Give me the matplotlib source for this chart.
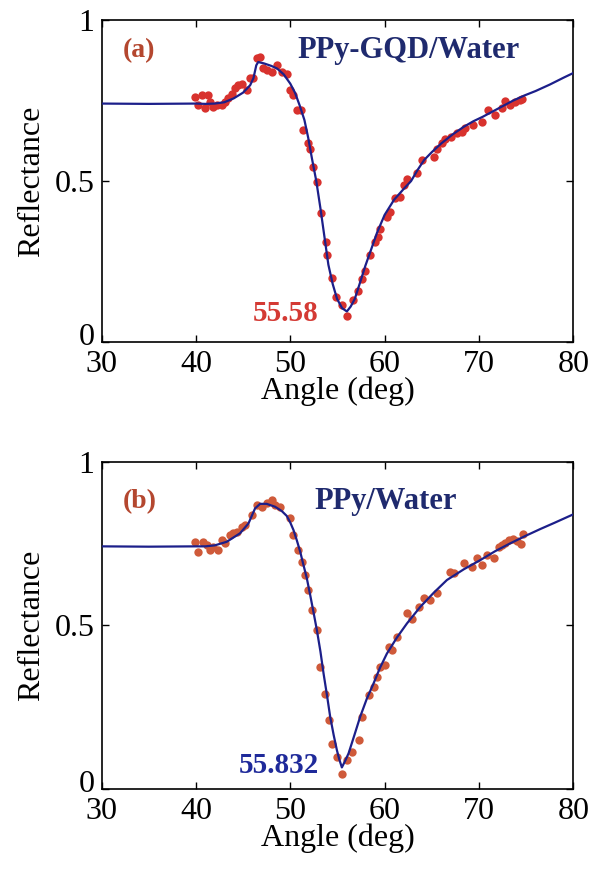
import matplotlib
matplotlib.use("Agg")
import matplotlib.pyplot as plt
import matplotlib.transforms as mtransforms

# panel (a): PPy-GQD/Water
fit_a_x = [30, 35, 40, 41, 42, 43, 44, 45, 45.75, 46.1, 46.4, 46.6, 47.2, 48, 48.6, 49.3,
           50.0, 50.5, 51.0, 51.5, 51.9, 52.3, 52.76, 53.2, 53.56, 54.04, 54.5, 54.96, 55.5,
           56.0, 56.4, 56.84, 57.4, 57.96, 58.6, 59.2, 60.0, 61.0, 62.0, 62.8, 63.5, 64.2,
           65.0, 66.0, 67.2, 68.4, 69.4, 70.4, 72.0, 73.6, 74.8, 76, 77.5, 79, 80]
fit_a_y = [0.741, 0.740, 0.741, 0.740, 0.741, 0.745, 0.757, 0.775, 0.798, 0.82, 0.86, 0.870,
           0.866, 0.858, 0.850, 0.832, 0.803, 0.775, 0.735, 0.69, 0.635, 0.57, 0.50, 0.415,
           0.34, 0.24, 0.18, 0.134, 0.105, 0.095, 0.11, 0.134, 0.185, 0.237, 0.29, 0.34,
           0.395, 0.442, 0.475, 0.50, 0.535, 0.566, 0.59, 0.617, 0.645, 0.669, 0.686, 0.70,
           0.725, 0.75, 0.766, 0.78, 0.80, 0.822, 0.836]
exp_a_x = [39.91, 40.27, 40.62, 40.97, 41.33, 41.5, 41.86, 42.21, 42.74, 43.09, 43.45, 43.8,
           44.15, 44.5, 44.86, 45.4, 45.74, 46.1, 46.45, 46.8, 47.16, 47.51, 48.04, 48.57,
           49.1, 49.63, 49.99, 50.34, 50.69, 51.1, 51.4, 51.93, 52.11, 52.36, 52.82, 53.24,
           53.77, 53.88, 54.41, 54.87, 55.47, 56.0, 56.7, 57.2, 57.6, 57.9, 58.5, 59.0,
           59.25, 59.5, 60.2, 60.6, 61.1, 61.65, 62.1, 62.36, 63.4, 63.95, 65.2, 65.55,
           66.1, 66.4, 67.0, 67.7, 68.2, 68.55, 69.4, 70.3, 71.0, 71.7, 72.4, 72.8, 73.3,
           73.8, 74.3, 74.6]
exp_a_y = [0.762, 0.736, 0.767, 0.726, 0.767, 0.746, 0.731, 0.736, 0.736, 0.746, 0.757, 0.772,
           0.788, 0.798, 0.803, 0.783, 0.819, 0.819, 0.884, 0.886, 0.85, 0.845, 0.84, 0.86,
           0.84, 0.834, 0.783, 0.767, 0.721, 0.72, 0.658, 0.617, 0.60, 0.545, 0.498, 0.40,
           0.31, 0.27, 0.20, 0.14, 0.115, 0.082, 0.13, 0.16, 0.195, 0.22, 0.27, 0.31,
           0.325, 0.35, 0.39, 0.405, 0.446, 0.45, 0.488, 0.508, 0.524, 0.565, 0.576, 0.601,
           0.617, 0.632, 0.638, 0.648, 0.653, 0.664, 0.674, 0.684, 0.72, 0.705, 0.726, 0.75,
           0.738, 0.746, 0.752, 0.756]

# panel (b): PPy/Water
fit_b_x = [30, 35, 40, 41, 42, 43.27, 44.68, 45.57, 46.27, 46.8, 47.5, 48.4, 49.1, 49.63,
           50.0, 50.34, 50.7, 51.05, 51.4, 51.75, 52.1, 52.5, 52.82, 53.2, 53.53, 53.9,
           54.23, 54.6, 54.94, 55.2, 55.47, 55.8, 56.18, 56.8, 57.41, 58.1, 58.83, 59.5,
           60.24, 61.3, 62.36, 63.78, 65.2, 66.6, 68.4, 70.14, 71.7, 73.3, 75, 76.5, 78, 79, 80]
fit_b_y = [0.742, 0.741, 0.742, 0.742, 0.745, 0.756, 0.782, 0.812, 0.858, 0.872, 0.872, 0.863,
           0.85, 0.835, 0.815, 0.792, 0.76, 0.726, 0.685, 0.645, 0.595, 0.535, 0.486, 0.42,
           0.353, 0.285, 0.221, 0.165, 0.119, 0.09, 0.066, 0.085, 0.109, 0.165, 0.221, 0.275,
           0.323, 0.37, 0.414, 0.463, 0.506, 0.557, 0.60, 0.639, 0.672, 0.70, 0.727, 0.751,
           0.775, 0.795, 0.814, 0.827, 0.84]
exp_b_x = [39.91, 40.27, 40.72, 41.15, 41.5, 41.86, 42.39, 42.74, 43.09, 43.62, 43.98, 44.33,
           44.86, 45.21, 45.92, 46.45, 46.98, 47.51, 48.04, 48.4, 48.93, 49.99, 50.34, 50.87,
           51.22, 51.58, 51.93, 52.29, 52.82, 53.17, 53.7, 54.06, 54.41, 54.94, 55.47, 56.0,
           56.53, 57.24, 57.59, 58.3, 58.83, 59.18, 59.54, 60.07, 60.42, 60.77, 61.3, 62.36,
           62.9, 63.6, 64.13, 64.84, 65.54, 66.96, 67.3, 68.37, 69.25, 69.8, 70.3, 70.85,
           71.55, 72.1, 72.4, 72.8, 73.2, 73.6, 74.0, 74.4, 74.7]
exp_b_y = [0.756, 0.726, 0.756, 0.746, 0.731, 0.741, 0.731, 0.762, 0.751, 0.777, 0.782, 0.787,
           0.802, 0.807, 0.838, 0.869, 0.863, 0.874, 0.884, 0.869, 0.863, 0.828, 0.777, 0.73,
           0.695, 0.654, 0.609, 0.547, 0.486, 0.374, 0.292, 0.211, 0.139, 0.098, 0.047, 0.088,
           0.114, 0.149, 0.221, 0.287, 0.312, 0.343, 0.374, 0.379, 0.435, 0.425, 0.465, 0.537,
           0.521, 0.557, 0.583, 0.578, 0.598, 0.664, 0.659, 0.69, 0.68, 0.705, 0.685, 0.715,
           0.705, 0.741, 0.746, 0.752, 0.76, 0.763, 0.757, 0.75, 0.78]

plt.rcParams['font.family'] = ['Liberation Serif', 'DejaVu Serif']

fig = plt.figure(figsize=(5.92, 8.72), dpi=100)
ax_a = fig.add_axes([0.1715, 0.6078, 0.797, 0.369])
ax_b = fig.add_axes([0.1715, 0.0952, 0.797, 0.375])

panels = [
    (ax_a, fit_a_x, fit_a_y, exp_a_x, exp_a_y, '#d8322e', '(a)', 'PPy-GQD/Water', 50.8, 0.905,
     '55.58', '#d43a34', 46.0, 0.09),
    (ax_b, fit_b_x, fit_b_y, exp_b_x, exp_b_y, '#cf5a3a', '(b)', 'PPy/Water', 52.6, 0.88,
     '55.832', '#1f2a9a', 44.5, 0.073),
]

for ax, fx, fy, ex, ey, dotc, tag, name, nx, ny, mintxt, minc, mx, my in panels:
    ax.plot(ex, ey, 'o', color=dotc, markersize=6, markeredgewidth=0, zorder=2)
    ax.plot(fx, fy, '-', color='#1c1f8a', lw=1.6, zorder=3)
    ax.set_xlim(30, 80)
    ax.set_ylim(0, 1)
    ax.set_xticks([30, 40, 50, 60, 70, 80])
    ax.set_yticks([0, 0.5, 1])
    ax.set_yticklabels(['0', '0.5', '1'])
    ax.tick_params(direction='in', top=True, right=True, length=5, width=1, labelsize=23)
    ax.tick_params(axis='x', pad=6)
    ax.tick_params(axis='y', pad=5)
    # nudge the "0" label up a little so it clears the "30" below it
    zero = ax.get_yticklabels()[0]
    zero.set_transform(zero.get_transform() +
                       mtransforms.ScaledTranslation(0, 6 / 72, fig.dpi_scale_trans))
    for s in ax.spines.values():
        s.set_linewidth(1.2)
    ax.set_xlabel('Angle (deg)', fontsize=23, labelpad=-2)
    ax.set_ylabel('Reflectance', fontsize=23, labelpad=6)
    ax.text(32.2, ny, tag, color='#b4472f', fontsize=20, fontweight='bold', va='center')
    ax.text(nx, ny, name, color='#1f2a6e', fontsize=22, fontweight='bold', va='center')
    ax.text(mx, my, mintxt, color=minc, fontsize=21, fontweight='bold', va='center')

fig.savefig('out.png', dpi=100)
